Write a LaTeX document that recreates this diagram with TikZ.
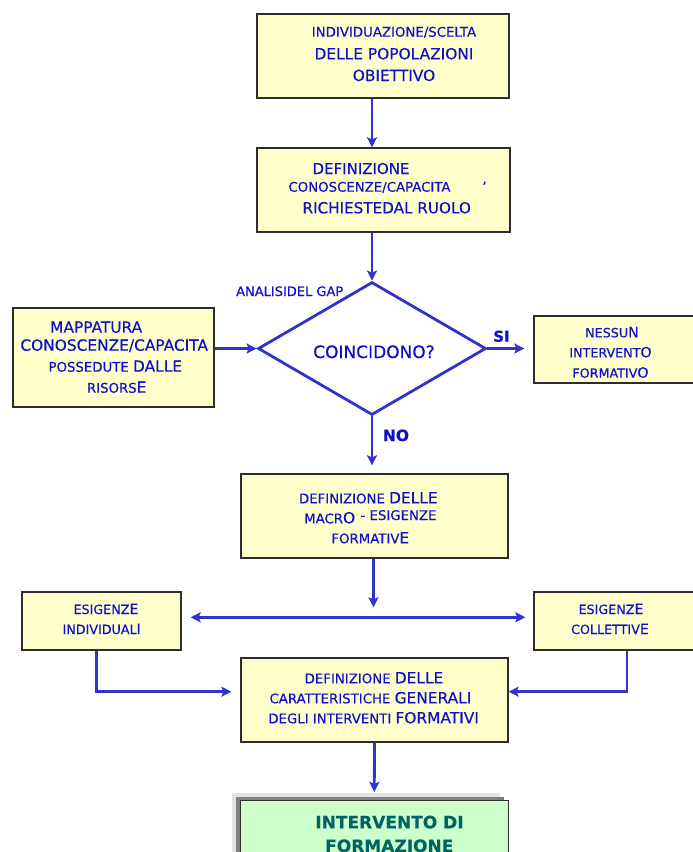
\documentclass[tikz,border=0pt]{standalone}
\usepackage{fontspec}
\setmainfont{DejaVu Sans}[FakeBold=0.35]
\usetikzlibrary{arrows.meta,shapes.geometric}

\definecolor{txtblue}{RGB}{15,15,204}
\definecolor{linblue}{RGB}{51,51,204}
\definecolor{boxfill}{RGB}{255,255,204}
\definecolor{boxline}{RGB}{45,45,45}
\definecolor{greenfill}{RGB}{204,255,204}
\definecolor{teal}{RGB}{0,100,100}
\definecolor{shadelight}{RGB}{226,226,226}
\definecolor{shademid}{RGB}{128,128,128}

% font sizes used in the chart
\newcommand\szS{\fontsize{13.3}{16}\selectfont}
\newcommand\szL{\fontsize{15.4}{18}\selectfont}
\newcommand\szR{\fontsize{12.7}{15}\selectfont}
\newcommand\szRL{\fontsize{14.2}{17}\selectfont}

\begin{document}
\begin{tikzpicture}[x=1pt,y=-1pt,
  box/.style={draw=boxline, fill=boxfill, line width=1.3pt, inner sep=0pt},
  gbox/.style={draw=boxline, fill=greenfill, line width=1.2pt, inner sep=0pt},
  txt/.style={anchor=base, text=txtblue, inner sep=0pt},
  gtxt/.style={anchor=base, text=teal, inner sep=0pt, font=\fontsize{17}{20}\selectfont\bfseries},
  flow/.style={draw=linblue, line width=2.8pt},
  arr/.style={flow, -{Stealth[length=10pt,width=10pt,inset=2pt]}},
  arrs/.style={flow, {Stealth[length=10pt,width=10pt,inset=2pt]}-{Stealth[length=10pt,width=10pt,inset=2pt]}},
]
\useasboundingbox (0,0) rectangle (693,852);
\clip (0,0) rectangle (693,852);
\fill[white] (0,0) rectangle (693,852);

% ---- boxes ----
\node[box, minimum width=252pt, minimum height=84pt] (b1) at (383,56) {};
\node[box, minimum width=253pt, minimum height=84pt] (b2) at (383.5,190) {};
\node[box, minimum width=201pt, minimum height=99pt] (b3) at (113.5,357.5) {};
\node[box, minimum width=206pt, minimum height=67pt] (b4) at (637,349.5) {};
\node[draw=linblue, line width=2.8pt, diamond, minimum width=228pt, minimum height=133pt, inner sep=0pt] (dia) at (372,348.5) {};
\node[box, minimum width=267pt, minimum height=84pt] (b5) at (374.5,516) {};
\node[box, minimum width=159pt, minimum height=58pt] (b6) at (101.5,621) {};
\node[box, minimum width=186pt, minimum height=58pt] (b7) at (627,621) {};
\node[box, minimum width=267pt, minimum height=84pt] (b8) at (374.5,700) {};

% bevelled frame of the last box
\fill[shadelight] (232,793) rectangle (500,900);
\fill[shademid] (236,797) rectangle (504,900);
\node[gbox, minimum width=268pt, minimum height=100pt] (b9) at (374.25,850.5) {};

% ---- texts ----
\node[txt] (t1a) at (394,36.7) {\szS INDIVIDUAZIONE/SCELTA};
\node[txt] (t1b) at (394,59.3) {\szL DELLE POPOLAZIONI};
\node[txt] (t1c) at (394,81) {\szL OBIETTIVO};

\node[txt] (t2a) at (361,174) {\fontsize{15}{18}\selectfont DEFINIZIONE};
\node[txt] (t2b) at (369.5,191.7) {\szS CONOSCENZE/CAPACITA};
\node[txt, anchor=north] (t2c) at (484.5,181.5) {\szS ’};
\node[txt] (t2d) at (386.7,213.3) {\fontsize{15.2}{18}\selectfont RICHIESTEDAL RUOLO};

\node[txt] (tgap) at (289.7,296) {\fontsize{13}{16}\selectfont ANALISIDEL GAP};
\node[txt] (tdia) at (374,358) {\fontsize{17}{20}\selectfont COINCIDONO?};

\node[txt] (t3a) at (96.2,332.7) {\szL MAPPATURA};
\node[txt] (t3b) at (114.2,350.7) {\szL CONOSCENZE/CAPACITA};
\node[txt] (t3c) at (115.3,371.7) {\szS POSSEDUTE \szL DALLE};
\node[txt] (t3d) at (116.7,392.7) {\szS RISORS\szL E};

\node[txt] (t4a) at (612,337.3) {\szR NESSU\szRL N};
\node[txt] (t4b) at (610.5,357.3) {\szR INTERVENT\szRL O};
\node[txt] (t4c) at (610.5,377.7) {\szR FORMATIV\szRL O};

\node[txt] (tsi) at (501.5,341.7) {\fontsize{15}{18}\selectfont\bfseries SI};
\node[txt] (tno) at (396,441) {\fontsize{15.5}{18}\selectfont\bfseries NO};

\node[txt] (t5a) at (368.3,503.3) {\szS DEFINIZIONE \szL DELLE};
\node[txt, anchor=base west] (t5b) at (304,523.3) {\szS MACR\szL O};
\node[txt, anchor=base east] (t5c) at (436.7,520) {\szS -\ ESIGENZE};
\node[txt] (t5d) at (370.3,543.3) {\szS FORMATIV\szL E};

\node[txt] (t6a) at (106,614) {\szR ESIGENZ\szRL E};
\node[txt] (t6b) at (101.7,634) {\szR INDIVIDUAL\szRL I};
\node[txt] (t7a) at (611,614) {\szR ESIGENZ\szRL E};
\node[txt] (t7b) at (610,634) {\szR COLLETTIV\szRL E};

\node[txt] (t8a) at (374,683.3) {\szS DEFINIZIONE \szL DELLE};
\node[txt] (t8b) at (370.4,703.3) {\szS CARATTERISTICHE \szL GENERALI};
\node[txt] (t8c) at (373.6,723.3) {\szS DEGLI INTERVENTI \szL FORMATIVI};

\node[gtxt] (t9a) at (389.5,828.3) {INTERVENTO DI};
\node[gtxt] (t9b) at (389.3,852) {FORMAZIONE};

% ---- connectors ----
\coordinate (hub) at (373.5,617.3);
\draw[arr] (b1.south -| dia.north) -- (b2.north -| dia.north);
\draw[arr] (b2.south -| dia.north) -- (dia.north);
\draw[arr] (b3.east |- dia.west) -- (dia.west);
\draw[arr, shorten >=9pt] (dia.east) -- (b4.west |- dia.east);
\draw[arr, shorten >=8pt] (dia.south) -- (b5.north -| dia.south);
\draw[arr, shorten >=10pt] (b5.south -| hub) -- (hub);
\draw[arrs, shorten <=9pt, shorten >=8pt] (b6.east |- hub) -- (b7.west |- hub);
\draw[arr, shorten >=9pt] ([xshift=-5pt]b6.south) |- ([yshift=8.3pt]b8.west);
\draw[arr] (b7.south) |- ([yshift=8.3pt]b8.east);
\draw[arr, shorten >=8pt] (b8.south) -- (b9.north);
\end{tikzpicture}
\end{document}
